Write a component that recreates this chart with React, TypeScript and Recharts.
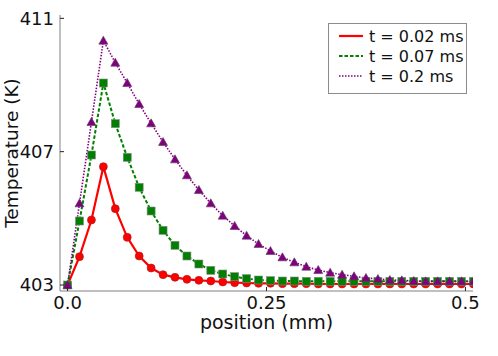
import { LineChart, Line, XAxis, YAxis } from "recharts";

const positions = [
  0, 0.015, 0.03, 0.045, 0.06, 0.075, 0.09, 0.105, 0.12, 0.135, 0.15, 0.165,
  0.18, 0.195, 0.21, 0.225, 0.24, 0.255, 0.27, 0.285, 0.3, 0.315, 0.33, 0.345,
  0.36, 0.375, 0.39, 0.405, 0.42, 0.435, 0.45, 0.465, 0.48, 0.495, 0.51,
];

// t = 0.02 ms
const tempShort = [
  403.0, 403.85, 404.95, 406.55, 405.29, 404.43, 403.87, 403.51, 403.31, 403.23,
  403.17, 403.14, 403.12, 403.09, 403.07, 403.06, 403.05, 403.05, 403.04, 403.04,
  403.04, 403.03, 403.03, 403.03, 403.03, 403.03, 403.03, 403.03, 403.03, 403.03,
  403.03, 403.03, 403.03, 403.03, 403.03,
];

// t = 0.07 ms
const tempMid = [
  403.0, 404.92, 406.9, 409.06, 407.84, 406.83, 405.93, 405.22, 404.64, 404.19,
  403.87, 403.63, 403.44, 403.33, 403.25, 403.19, 403.15, 403.13, 403.12, 403.12,
  403.11, 403.11, 403.11, 403.11, 403.11, 403.11, 403.11, 403.11, 403.11, 403.11,
  403.11, 403.11, 403.11, 403.11, 403.11,
];

// t = 0.2 ms
const tempLong = [
  403.0, 405.45, 407.89, 410.33, 409.67, 409.06, 408.43, 407.85, 407.29, 406.77,
  406.29, 405.85, 405.45, 405.08, 404.77, 404.48, 404.23, 404.02, 403.83, 403.68,
  403.55, 403.45, 403.37, 403.31, 403.26, 403.21, 403.18, 403.15, 403.14, 403.12,
  403.11, 403.11, 403.11, 403.11, 403.11,
];

const seriesNames = ["t = 0.02 ms", "t = 0.07 ms", "t = 0.2 ms"];
const xTicks = [0, 0.25, 0.5];
const xTickLabels = ["0.0", "0.25", "0.5"];
const yTicks = [403, 407, 411];

const data = positions.map((x, i) => ({
  x,
  short: tempShort[i],
  mid: tempMid[i],
  long: tempLong[i],
}));

const FONT = "'DejaVu Sans', sans-serif";
const FRAME = "#808080";
const TICK = "#222";
const X_DOMAIN = [-0.0095, 0.5095];
const Y_DOMAIN = [402.82, 411.1];

const series = [
  { key: "short", name: seriesNames[0], color: "#ff0000", width: 2.2, dash: undefined },
  { key: "mid", name: seriesNames[1], color: "#008000", width: 2, dash: "3.5 2" },
  { key: "long", name: seriesNames[2], color: "#800080", width: 1.6, dash: "1.5 1.5" },
];

function CircleDot(p: any) {
  if (p.cx == null || p.cy == null) return <g key={p.index} />;
  return (
    <circle key={p.index} cx={p.cx} cy={p.cy} r={4} fill="#ff0000" stroke="#9a2020" strokeWidth={0.6} />
  );
}

function SquareDot(p: any) {
  if (p.cx == null || p.cy == null) return <g key={p.index} />;
  return (
    <rect key={p.index} x={p.cx - 4} y={p.cy - 4} width={8} height={8} fill="#008000" stroke="#888" strokeWidth={0.6} />
  );
}

function TriangleDot(p: any) {
  if (p.cx == null || p.cy == null) return <g key={p.index} />;
  const { cx, cy } = p;
  return (
    <polygon
      key={p.index}
      points={`${cx},${cy - 4.5} ${cx - 4.5},${cy + 3.5} ${cx + 4.5},${cy + 3.5}`}
      fill="#800080"
      stroke="#5a3a5a"
      strokeWidth={0.6}
    />
  );
}

const dots = [CircleDot, SquareDot, TriangleDot];

// bottom axis: tickSize 0, tickMargin 0 -> y is the plot's bottom edge
function BottomTick({ x, y, payload }: any) {
  const i = xTicks.indexOf(payload.value);
  return (
    <g>
      <line x1={x} x2={x} y1={y} y2={y - 4} stroke={TICK} />
      <text x={x} y={y + 18} textAnchor="middle" fontSize={18} fontFamily={FONT} fill="#111">
        {i >= 0 ? xTickLabels[i] : payload.value}
      </text>
    </g>
  );
}

// left axis: tickSize 0, tickMargin 6 -> plot edge is x + 6
function LeftTick({ x, y, payload }: any) {
  return (
    <g>
      <line x1={x + 6} x2={x + 10} y1={y} y2={y} stroke={TICK} />
      <text x={x} y={y} dy="0.36em" textAnchor="end" fontSize={18} fontFamily={FONT} fill="#111">
        {payload.value}
      </text>
    </g>
  );
}

function TopTick({ x, y }: any) {
  return <line x1={x} x2={x} y1={y} y2={y + 4} stroke={TICK} />;
}

function RightTick({ x, y }: any) {
  return <line x1={x - 4} x2={x} y1={y} y2={y} stroke={TICK} />;
}

function YLabel({ viewBox }: any) {
  const cy = viewBox.y + viewBox.height / 2;
  return (
    <text
      x={18}
      y={cy}
      transform={`rotate(-90, 18, ${cy})`}
      textAnchor="middle"
      fontSize={18.5}
      fontFamily={FONT}
      fill="#111"
    >
      Temperature (K)
    </text>
  );
}

function XLabel({ viewBox }: any) {
  const cx = viewBox.x + viewBox.width / 2;
  return (
    <text x={cx} y={329} textAnchor="middle" fontSize={19} fontFamily={FONT} fill="#111">
      position (mm)
    </text>
  );
}

function LegendBox() {
  return (
    <div
      style={{
        position: "absolute",
        left: 328,
        top: 23,
        width: 137,
        height: 67,
        border: "1px solid #8c8c8c",
        background: "#fff",
        fontFamily: FONT,
        fontSize: 16,
        color: "#111",
        paddingTop: 2,
        boxSizing: "content-box",
      }}
    >
      {series.map((s) => (
        <div key={s.key} style={{ display: "flex", alignItems: "center", height: 20 }}>
          <svg width={40} height={20} style={{ flexShrink: 0 }}>
            <line
              x1={10}
              x2={34}
              y1={10}
              y2={10}
              stroke={s.color}
              strokeWidth={s.width}
              strokeDasharray={s.dash}
            />
          </svg>
          <span style={{ whiteSpace: "nowrap" }}>{s.name}</span>
        </div>
      ))}
    </div>
  );
}

export default function App() {
  return (
    <div style={{ position: "absolute", left: 0, top: 0, width: 498, height: 356, background: "#fff" }}>
      <LineChart width={498} height={356} data={data} margin={{ top: 15, right: 25, bottom: 0, left: 0 }}>
        <XAxis
          dataKey="x"
          type="number"
          domain={X_DOMAIN}
          allowDataOverflow
          ticks={xTicks}
          height={65}
          tickSize={0}
          tickMargin={0}
          tickLine={false}
          axisLine={{ stroke: FRAME }}
          tick={<BottomTick />}
          label={<XLabel />}
          interval={0}
        />
        <XAxis
          xAxisId="top"
          orientation="top"
          dataKey="x"
          type="number"
          domain={X_DOMAIN}
          allowDataOverflow
          ticks={xTicks}
          height={0}
          tickSize={0}
          tickMargin={0}
          tickLine={false}
          axisLine={{ stroke: FRAME }}
          tick={<TopTick />}
          interval={0}
        />
        <YAxis
          type="number"
          domain={Y_DOMAIN}
          allowDataOverflow
          ticks={yTicks}
          width={60}
          tickSize={0}
          tickMargin={6}
          tickLine={false}
          axisLine={{ stroke: FRAME }}
          tick={<LeftTick />}
          label={<YLabel />}
          interval={0}
        />
        <YAxis
          yAxisId="r"
          orientation="right"
          type="number"
          domain={Y_DOMAIN}
          allowDataOverflow
          ticks={yTicks}
          width={0}
          tickSize={0}
          tickMargin={0}
          tickLine={false}
          axisLine={{ stroke: FRAME }}
          tick={<RightTick />}
          interval={0}
        />
        {series.map((s, i) => (
          <Line
            key={s.key}
            dataKey={s.key}
            name={s.name}
            type="linear"
            stroke={s.color}
            strokeWidth={s.width}
            strokeDasharray={s.dash}
            dot={dots[i]}
            activeDot={false}
            isAnimationActive={false}
          />
        ))}
      </LineChart>
      <LegendBox />
    </div>
  );
}
